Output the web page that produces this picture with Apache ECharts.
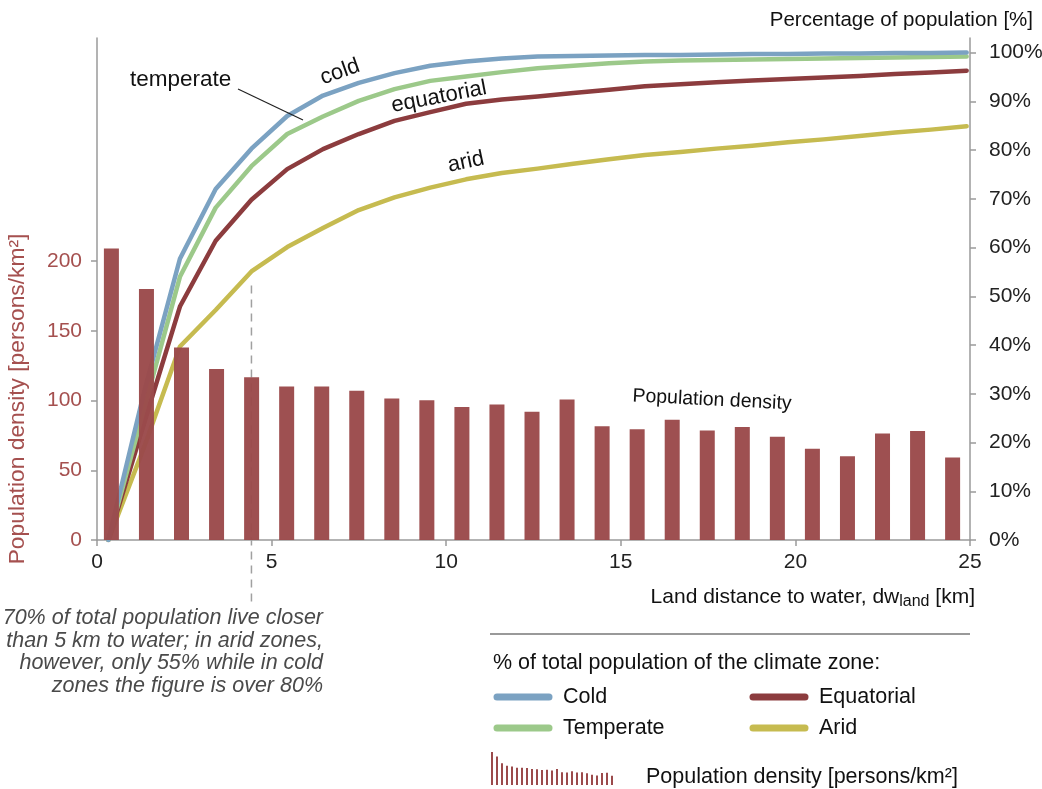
<!DOCTYPE html>
<html><head><meta charset="utf-8">
<script src="https://cdn.jsdelivr.net/npm/echarts@6/dist/echarts.min.js"></script>
<style>html,body{margin:0;padding:0;background:#fff}#c{width:1042px;height:789px}</style>
</head><body><div id="c"></div>
<script>
// Population density per 1-km distance bin [persons/km2]
const binCenters = [0.5,1.5,2.5,3.5,4.5,5.5,6.5,7.5,8.5,9.5,10.5,11.5,12.5,13.5,14.5,15.5,16.5,17.5,18.5,19.5,20.5,21.5,22.5,23.5,24.5];
const density = [209,180,138,122.7,116.7,110,110,107,101.4,100.2,95.4,97.1,92,100.7,81.5,79.4,86.3,78.6,81,74.1,65.5,60,76.3,78.1,59.2];
// Cumulative % of total population of the climate zone vs. distance [km]
const distances = [0,1,2,3,4,5,6,7,8,9,10,11,12,13,14,15,16,17,18,19,20,21,22,23,24];
const cold = [0,30.4,57.7,72.0,80.3,87.0,91.2,93.8,95.8,97.3,98.2,98.8,99.2,99.3,99.4,99.5,99.5,99.6,99.7,99.7,99.8,99.8,99.9,99.9,100];
const temperate = [0,27,54.0,68.2,76.7,83.3,86.9,90.1,92.5,94.2,95.1,96.0,96.8,97.3,97.8,98.2,98.4,98.5,98.6,98.7,98.8,98.9,99.0,99.1,99.2];
const equatorial = [0,24,47.9,61.4,69.8,76.1,80.2,83.3,86.0,87.8,89.5,90.4,91.0,91.7,92.4,93.1,93.5,93.9,94.3,94.6,94.9,95.2,95.6,95.9,96.3];
const arid = [0,19.1,39.7,47.2,55.1,60.1,64.0,67.7,70.3,72.3,74.0,75.3,76.2,77.2,78.1,79.0,79.6,80.3,80.9,81.6,82.2,82.9,83.6,84.2,84.9];
const xTicks = [0,5,10,15,20,25];
const leftTicks = [0,50,100,150,200];
const rightTicks = [0,10,20,30,40,50,60,70,80,90,100];

const FONT = "'Liberation Sans', Arial, sans-serif";
const C = {cold:'#7ba2c2', temperate:'#9cc98a', equatorial:'#8c3c3e', arid:'#c6bb50', bar:'#9b4a4b', axis:'#9a9a9a', leftTxt:'#a5504f'};

const chart = echarts.init(document.getElementById('c'), null, {renderer:'canvas'});

function lineSeries(name, data, color, z) {
  return {name, type:'line', xAxisIndex:2, yAxisIndex:1, symbol:'none', z,
    data: distances.map((d,i)=>[d,data[i]]),
    lineStyle:{color, width:4.5, cap:'round', join:'round'}, silent:true};
}

const option = {
  animation:false,
  textStyle:{fontFamily:FONT},
  grid:{left:97, right:72, top:38, bottom:249, containLabel:false, outerBoundsMode:'none'},
  xAxis:[
    {type:'value', min:0, max:25, interval:5, position:'bottom',
     axisLine:{show:true, onZero:false, lineStyle:{color:C.axis, width:1.5}},
     axisTick:{show:true, length:6, lineStyle:{color:C.axis, width:1.5}, customValues:xTicks},
     axisLabel:{color:'#222', fontSize:21, margin:12, fontFamily:FONT, customValues:xTicks},
     splitLine:{show:false}},
    {type:'value', min:0.089, max:24.996, show:false, axisLine:{onZero:false}, splitLine:{show:false}},
    {type:'value', min:-0.319, max:24.093, show:false, axisLine:{onZero:false}, splitLine:{show:false}}
  ],
  yAxis:[
    {type:'value', min:0, max:360, position:'left',
     axisLine:{show:true, onZero:false, lineStyle:{color:C.axis, width:1.5}},
     axisTick:{show:true, length:6, lineStyle:{color:C.axis, width:1.5}, customValues:leftTicks},
     axisLabel:{color:C.leftTxt, fontSize:21, margin:15, fontFamily:FONT, customValues:leftTicks},
     splitLine:{show:false}},
    {type:'value', min:0, max:103, position:'right',
     axisLine:{show:true, onZero:false, lineStyle:{color:C.axis, width:1.5}},
     axisTick:{show:true, length:6, lineStyle:{color:C.axis, width:1.5}, customValues:rightTicks},
     axisLabel:{color:'#222', fontSize:21, margin:19, fontFamily:FONT, formatter:'{value}%', customValues:rightTicks},
     splitLine:{show:false}}
  ],
  series:[
    lineSeries('Arid', arid, C.arid, 2),
    lineSeries('Equatorial', equatorial, C.equatorial, 3),
    lineSeries('Temperate', temperate, C.temperate, 4),
    lineSeries('Cold', cold, C.cold, 5),
    {name:'Population density', type:'bar', xAxisIndex:1, yAxisIndex:0, z:6, barWidth:15,
     data: binCenters.map((x,i)=>[x,density[i]]),
     itemStyle:{color:C.bar, opacity:0.97}, silent:true}
  ]
};
chart.setOption(option);

const g = [];
const txt = (x,y,text,opt={}) => ({type:'text', x, y, rotation:opt.rot||0, z:20,
  style:{text, fill:opt.color||'#111', font:(opt.italic?'italic ':'')+(opt.size||21)+'px '+FONT,
  textAlign:opt.align||'left', textVerticalAlign:'middle'}});

// dashed marker at arid 55% point
const p = chart.convertToPixel({xAxisIndex:2, yAxisIndex:1}, [distances[4], arid[4]]);
g.push({type:'line', z:1, shape:{x1:p[0], y1:p[1]+14, x2:p[0], y2:603},
  style:{stroke:'#a0a0a0', lineWidth:1.5, lineDash:[8,6]}});

g.push(txt(1033, 20, 'Percentage of population [%]', {align:'right', size:20.5}));
g.push(txt(130, 80, 'temperate', {size:22.5}));
g.push({type:'line', z:20, shape:{x1:238, y1:89, x2:303, y2:120}, style:{stroke:'#222', lineWidth:1.2}});
g.push(txt(340, 72, 'cold', {align:'center', rot:0.34, size:22}));
g.push(txt(439, 97, 'equatorial', {align:'center', rot:0.19, size:22}));
g.push(txt(466, 162, 'arid', {align:'center', rot:0.21, size:22}));
g.push(txt(712, 400, 'Population density', {align:'center', rot:-0.05, size:19.5}));

// left axis name
g.push(txt(18, 399, 'Population density [persons/km²]', {align:'center', rot:Math.PI/2, size:22.8, color:C.leftTxt}));

// x axis name with subscript
g.push({type:'text', x:975, y:597, z:20, style:{
  text:'{a|Land distance to water, dw}{s|land}{a| [km]}', textAlign:'right', textVerticalAlign:'middle',
  rich:{a:{fontSize:21, fontFamily:FONT, fill:'#111'}, s:{fontSize:16, fontFamily:FONT, fill:'#111', padding:[9,0,0,0]}}}});

// italic note
const note = ['70% of total population live closer','than 5 km to water; in arid zones,','however, only 55% while in cold','zones the figure is over 80%'];
note.forEach((t,i)=>g.push(txt(323, 618+i*22.7, t, {align:'right', italic:true, size:21.5, color:'#4a4a4a'})));

// legend
g.push({type:'line', shape:{x1:490, y1:634, x2:970, y2:634}, style:{stroke:'#777', lineWidth:1.5}});
g.push(txt(493, 663, '% of total population of the climate zone:', {size:21.5}));
const leg = [['Cold',C.cold,497,697],['Temperate',C.temperate,497,728],['Equatorial',C.equatorial,753,697],['Arid',C.arid,753,728]];
leg.forEach(([n,c,x,y])=>{
  g.push({type:'line', shape:{x1:x, y1:y, x2:x+52, y2:y}, style:{stroke:c, lineWidth:7, lineCap:'round'}});
  g.push(txt(x+66, y, n, {size:21.5}));
});
// mini bar icon from density data
const maxD = Math.max(...density);
density.forEach((v,i)=>{
  const h = v/maxD*33;
  g.push({type:'rect', shape:{x:491+i*5, y:785-h, width:2, height:h}, style:{fill:C.bar}});
});
g.push(txt(646, 777, 'Population density [persons/km²]', {size:21.5}));

chart.setOption({graphic:{elements:g}});
</script>
</body></html>
